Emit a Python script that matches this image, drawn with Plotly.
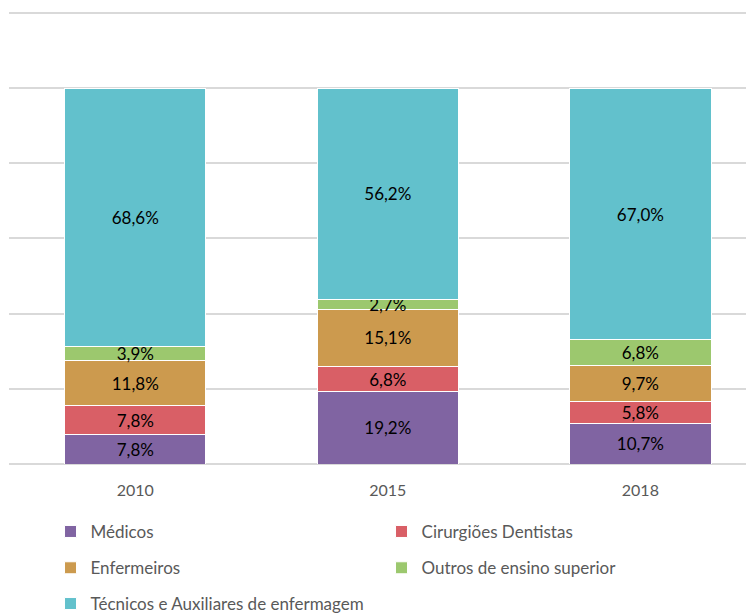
import plotly.graph_objects as go

anos = ["2010", "2015", "2018"]
medicos = [7.8, 19.2, 10.7]
dentistas = [7.8, 6.8, 5.8]
enfermeiros = [11.8, 15.1, 9.7]
outros = [3.9, 2.7, 6.8]
tecnicos = [68.6, 56.2, 67.0]

series = [
    ("Médicos", medicos, "#8064A2", "legend"),
    ("Cirurgiões Dentistas", dentistas, "#D95F66", "legend"),
    ("Enfermeiros", enfermeiros, "#CC9A4E", "legend2"),
    ("Outros de ensino superior", outros, "#9CC86E", "legend2"),
    ("Técnicos e Auxiliares de enfermagem", tecnicos, "#62C1CC", "legend3"),
]

fig = go.Figure()
for name, vals, color, leg in series:
    fig.add_trace(go.Bar(
        x=anos, y=vals, name=name,
        marker=dict(color=color, line=dict(color="white", width=1)),
        text=[f"{v:.1f}%".replace(".", ",") for v in vals],
        textposition="inside", insidetextanchor="middle",
        textfont=dict(color="black", size=17),
        legend=leg,
    ))

# three one-row legends so the rows sit as far apart as in the original
leg_style = dict(orientation="h", xref="container", yref="container",
                 xanchor="left", x=0.057, yanchor="middle",
                 traceorder="normal", entrywidth=286,
                 font=dict(size=17, color="#595959"),
                 bgcolor="rgba(0,0,0,0)", itemclick=False)

# page body has an 8px margin, so the figure is 8px smaller than the window
fig.update_layout(
    barmode="stack",
    bargap=0.44,
    width=746, height=605,
    margin=dict(l=1, r=0, t=3, b=149, autoexpand=False),
    font=dict(family="Lato, Open Sans, sans-serif"),
    plot_bgcolor="white", paper_bgcolor="white",
    uniformtext=dict(minsize=17, mode="show"),
    legend=dict(leg_style, y=0.134),
    legend2=dict(leg_style, y=0.074),
    legend3=dict(leg_style, y=0.0149),
)
fig.update_xaxes(range=[-0.5, 2.45], tickfont=dict(size=16, color="#595959"),
                 showline=False, ticks="outside", ticklen=12, tickcolor="rgba(0,0,0,0)",
                 fixedrange=True)
fig.update_yaxes(range=[0, 120.5], dtick=20, showticklabels=False,
                 gridcolor="#D9D9D9", gridwidth=1.5, zeroline=True,
                 zerolinecolor="#D9D9D9", zerolinewidth=1.5, fixedrange=True)

fig.write_html("out.html", config=dict(displayModeBar=False))
